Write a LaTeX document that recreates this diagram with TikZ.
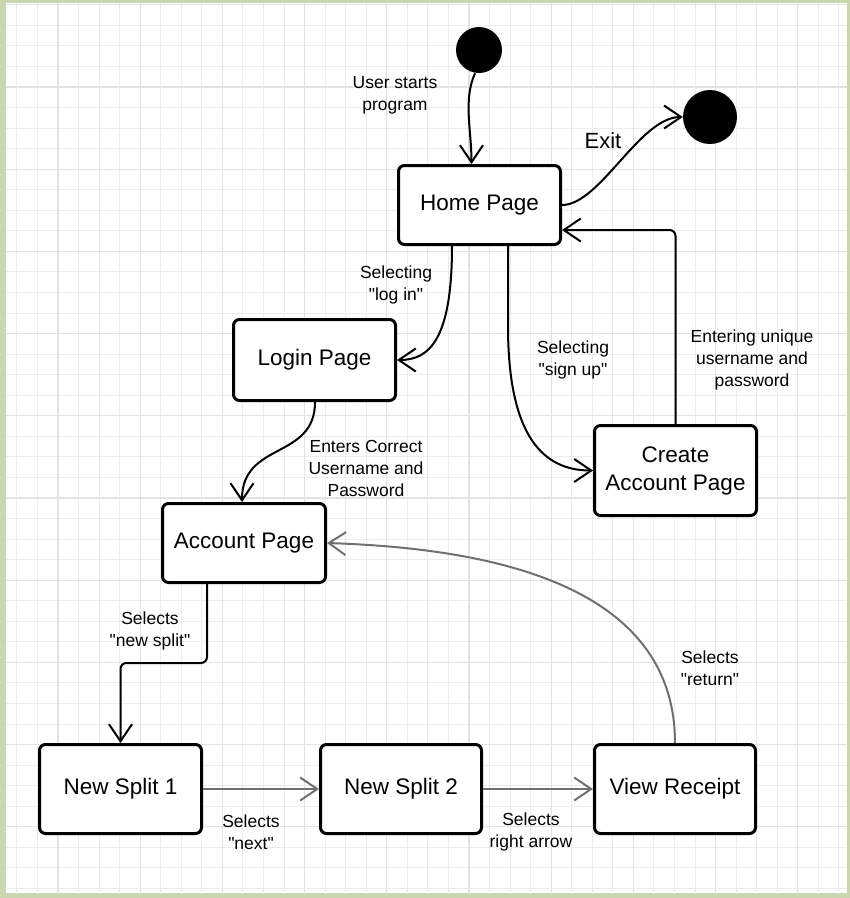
\documentclass[tikz,border=0pt]{standalone}
\usepackage{fontspec}
\setmainfont{Liberation Sans}[Ligatures=TeXOff]
\usetikzlibrary{arrows.meta}
\definecolor{framegreen}{RGB}{202,215,174}
\definecolor{gridminor}{RGB}{236,236,236}
\definecolor{gridmajor}{RGB}{226,226,226}
\definecolor{conngray}{RGB}{112,112,112}
\tikzset{
  statebox/.style={draw=black,line width=3pt,rounded corners=6pt,fill=white,
    minimum width=162pt,align=center,inner sep=0pt,
    font=\fontsize{22.5}{28}\selectfont},
  dot/.style={circle,fill=black,inner sep=0pt},
  conn/.style={draw=black,line width=2pt,
    -{Straight Barb[length=17pt,width=23pt]}},
  gconn/.style={draw=conngray,line width=2pt,
    -{Straight Barb[length=17pt,width=23pt]}},
  lbl/.style={align=center,inner sep=0pt,font=\fontsize{17.5}{22}\selectfont},
  minorline/.style={draw=gridminor,line width=1pt},
  majorline/.style={draw=gridmajor,line width=1.2pt}
}
\begin{document}
\begin{tikzpicture}[x=1pt,y=-1pt]
\useasboundingbox (0,0) rectangle (850,898);
% frame and grid
\fill[framegreen] (0,0) rectangle (850,898);
\begin{scope}
\clip (6,3) rectangle (847,893);
\fill[white] (6,3) rectangle (847,893);
\foreach \i in {-3,...,38} {
  \draw[minorline] ({58+20.55*\i},0) -- ++(0,900);
}
\foreach \i in {-5,...,40} {
  \draw[minorline] (0,{87+20.55*\i}) -- ++(850,0);
}
\foreach \i in {-1,...,10} {
  \draw[majorline] ({58+82.2*\i},0) -- ++(0,900);
  \draw[majorline] (0,{87+82.2*\i}) -- ++(850,0);
}
\end{scope}

% states
\node[dot,minimum size=46pt] (start) at (479,50) {};
\node[dot,minimum size=54pt] (end) at (710,117) {};
\node[statebox,minimum height=79pt] (home) at (479.5,205) {Home Page};
\node[statebox,minimum height=81pt] (login) at (314.5,360) {Login Page};
\node[statebox,minimum height=90pt] (create) at (675.5,470.5) {Create\\Account Page};
\node[statebox,minimum height=79pt,minimum width=163pt] (account) at (244,543) {Account Page};
\node[statebox,minimum height=89pt] (ns1) at (120.5,789) {New Split 1};
\node[statebox,minimum height=89pt,minimum width=161pt] (ns2) at (401,789) {New Split 2};
\node[statebox,minimum height=89pt,minimum width=161pt] (vr) at (675,789) {View Receipt};

% connectors
\draw[conn] ([xshift=-4pt]start.south) .. controls +(-12,27) and +(0,-34) .. ([xshift=-8pt]home.north);
\draw[conn] (home.east) .. controls +(38,0) and +(-43,0) .. (end.west);
\draw[conn,rounded corners=6pt] (create.north) |- ([yshift=-25pt]home.east);
\draw[conn] ([xshift=-27.5pt]home.south) .. controls +(0,94) and +(32,0) .. (login.east);
\draw[conn] ([xshift=28.5pt]home.south) -- ++(0,80) .. controls +(0,110) and +(-50,0) .. (create.west);
\draw[conn] ([xshift=0.5pt]login.south) .. controls +(0,58) and +(0,-61) .. ([xshift=-2pt]account.north);
\draw[conn,rounded corners=6pt] ([xshift=-37pt]account.south) -- ++(0,79) -| (ns1.north);
\draw[gconn] (ns1.east) -- (ns2.west);
\draw[gconn] (ns2.east) -- (vr.west);
\draw[gconn] (vr.north) .. controls +(0,-163) and +(153,5) .. (account.east);

% labels
\node[lbl] (l1) at (395,95) {User starts\\program};
\node[lbl,font=\fontsize{22}{28}\selectfont] (l2) at (603,141) {Exit};
\node[lbl] (l3) at (752,360) {Entering unique\\username and\\password};
\node[lbl] (l4) at (396,285) {Selecting\\"log in"};
\node[lbl] (l5) at (573,360) {Selecting\\"sign up"};
\node[lbl] (l6) at (366,468) {Enters Correct\\Username and\\Password};
\node[lbl] (l7) at (150,631) {Selects\\"new split"};
\node[lbl] (l8) at (251,832) {Selects\\"next"};
\node[lbl] (l9) at (531,832) {Selects\\right arrow};
\node[lbl] (l10) at (710,668) {Selects\\"return"};
\end{tikzpicture}
\end{document}
